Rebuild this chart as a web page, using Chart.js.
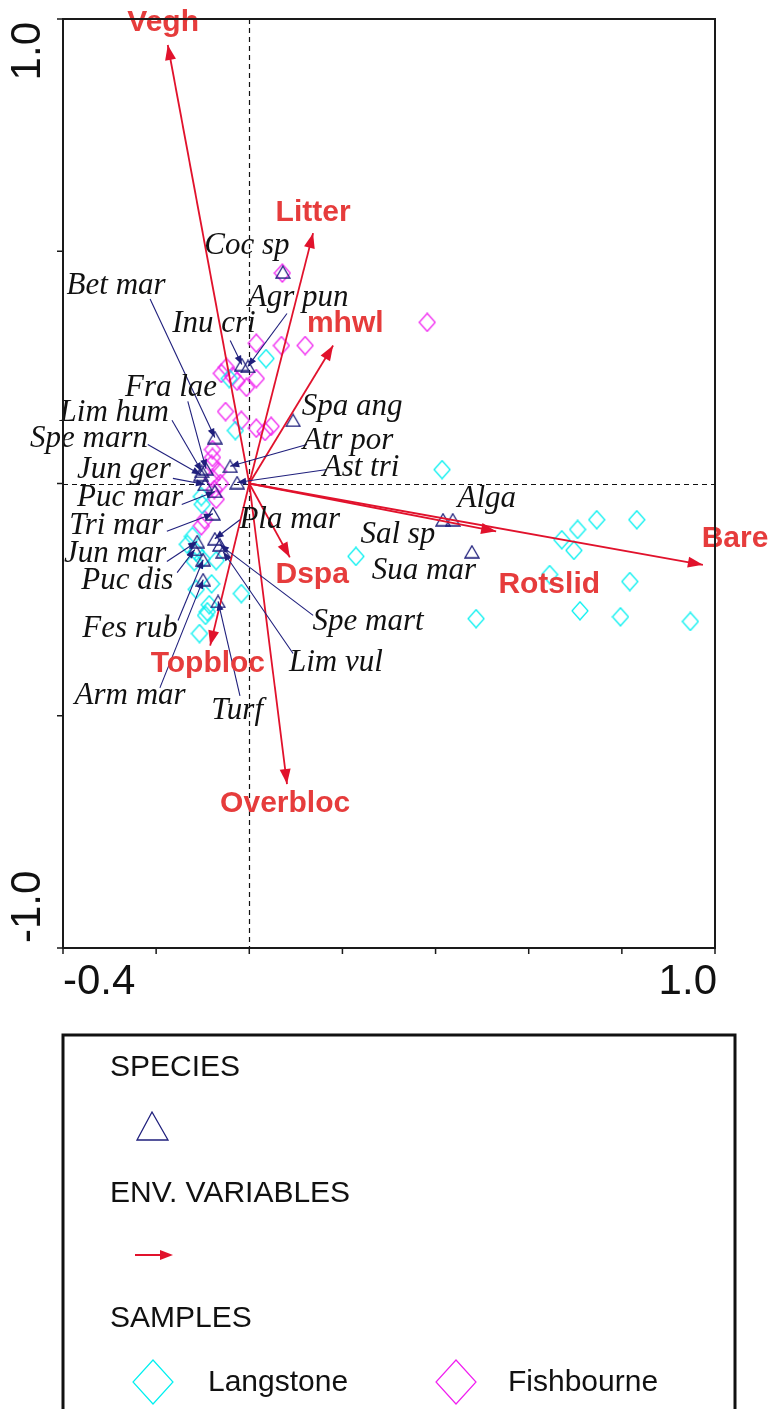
<!DOCTYPE html>
<html>
<head>
<meta charset="utf-8">
<script src="https://cdn.jsdelivr.net/npm/chart.js@4.4.1/dist/chart.umd.min.js"></script>
<style>
  html, body { margin: 0; padding: 0; background: #fff; }
  #wrap { position: relative; width: 771px; height: 1409px; }
</style>
</head>
<body>
<div id="wrap"><canvas id="triplot"></canvas></div>
<script>
// ---- environmental variables (arrow tips, ordination scores) ----
const envNames = ['Vegh', 'Litter', 'mhwl', 'Bare', 'Rotslid', 'Dspa', 'Topbloc', 'Overbloc'];
const envX = [-0.175, 0.137, 0.180, 0.974, 0.530, 0.087, -0.084, 0.081];
const envY = [0.944, 0.539, 0.297, -0.175, -0.103, -0.159, -0.349, -0.647];

// ---- species scores ----
const speciesNames = ['Coc sp', 'Bet mar', 'Inu cri', 'Agr pun', 'Fra lae', 'Lim hum', 'Spe marn', 'Jun ger',
  'Puc mar', 'Tri mar', 'Jun mar', 'Puc dis', 'Fes rub', 'Arm mar', 'Turf', 'Lim vul', 'Spe mart',
  'Pla mar', 'Atr por', 'Ast tri', 'Spa ang', 'Alga', 'Sal sp', 'Sua mar'];
const speciesX = [0.072, -0.074, -0.016, -0.003, -0.093, -0.102, -0.104, -0.095,
  -0.074, -0.078, -0.112, -0.117, -0.099, -0.099, -0.067, -0.056, -0.063,
  -0.074, -0.041, -0.026, 0.094, 0.437, 0.416, 0.478];
const speciesY = [0.455, 0.099, 0.256, 0.252, 0.032, 0.026, 0.019, -0.002,
  -0.017, -0.065, -0.125, -0.142, -0.164, -0.207, -0.254, -0.147, -0.132,
  -0.119, 0.037, 0.002, 0.136, -0.078, -0.078, -0.147];

// ---- sample scores ----
const langstoneX = [0.414, 0.746, 0.832, 0.705, 0.671, 0.697, 0.645, 0.817, 0.710, 0.797, 0.947, 0.487,
  0.229, -0.017, 0.036, -0.043, -0.030, -0.103, -0.101, -0.122, -0.133, -0.114, -0.101, -0.071,
  -0.114, -0.081, -0.086, -0.090, -0.094, -0.107, -0.118];
const langstoneY = [0.030, -0.078, -0.078, -0.099, -0.121, -0.144, -0.196, -0.211, -0.274, -0.287, -0.297, -0.291,
  -0.157, -0.237, 0.269, 0.226, 0.114, -0.028, -0.045, -0.114, -0.131, -0.147, -0.162, -0.166,
  -0.228, -0.216, -0.261, -0.276, -0.284, -0.323, -0.168];
const fishbourneX = [0.382, 0.071, 0.015, 0.069, 0.120, -0.049, -0.060, -0.036, 0.015, -0.006, -0.026,
  -0.051, -0.017, 0.015, 0.034, 0.047, -0.079, -0.079, -0.081, -0.066, -0.079, -0.062, -0.075,
  -0.071, -0.096, -0.103];
const fishbourneY = [0.347, 0.453, 0.302, 0.297, 0.297, 0.250, 0.237, 0.231, 0.226, 0.207, 0.220,
  0.155, 0.136, 0.119, 0.112, 0.123, 0.073, 0.056, 0.041, 0.026, 0.011, 0.000, -0.013,
  -0.034, -0.078, -0.091];

// ---- axis ticks ----
const xTicks = [-0.4, -0.2, 0, 0.2, 0.4, 0.6, 0.8, 1.0];
const xTickLabels = ['-0.4', '', '', '', '', '', '', '1.0'];
const yTicks = [-1.0, -0.5, 0, 0.5, 1.0];
const yTickLabels = ['-1.0', '', '', '', '1.0'];

// ---- label placement (axis units) ----
const envLabelX = [-0.185, 0.137, 0.206, 1.043, 0.644, 0.135, -0.089, 0.077];
const envLabelY = [0.991, 0.582, 0.343, -0.119, -0.218, -0.196, -0.388, -0.690];
const speciesLabelX = [-0.005, -0.286, -0.076, 0.105, -0.168, -0.290, -0.344, -0.269,
  -0.256, -0.286, -0.288, -0.262, -0.256, -0.256, -0.026, 0.186, 0.255,
  0.087, 0.212, 0.240, 0.221, 0.510, 0.319, 0.375];
const speciesLabelY = [0.511, 0.425, 0.343, 0.399, 0.207, 0.153, 0.097, 0.030,
  -0.030, -0.091, -0.151, -0.209, -0.312, -0.457, -0.489, -0.386, -0.297,
  -0.078, 0.091, 0.034, 0.166, -0.032, -0.110, -0.188];
// start of the leader line drawn from a label to its species (null = no leader)
const leaderX = [null, -0.213, -0.041, 0.081, -0.132, -0.166, -0.218, -0.164,
  -0.145, -0.177, -0.177, -0.155, -0.153, -0.192, -0.020, 0.094, 0.137,
  -0.020, 0.124, 0.167, null, null, null, null];
const leaderY = [null, 0.397, 0.308, 0.366, 0.177, 0.136, 0.084, 0.011,
  -0.045, -0.103, -0.168, -0.192, -0.295, -0.440, -0.457, -0.366, -0.284,
  -0.078, 0.084, 0.030, null, null, null, null];

const RED = '#e1122c';
const RED_TEXT = '#e63c3c';
const NAVY = '#1f1f7c';
const CYAN = '#00f0f0';
const MAGENTA = '#f020f0';

function diamondImage(color, w, h) {
  const c = document.createElement('canvas');
  c.width = w; c.height = h;
  const g = c.getContext('2d');
  g.strokeStyle = color; g.lineWidth = 1.2;
  g.beginPath();
  g.moveTo(w / 2, 1); g.lineTo(w - 1, h / 2); g.lineTo(w / 2, h - 1); g.lineTo(1, h / 2);
  g.closePath(); g.stroke();
  return c;
}
function triangleImage(color, w, h) {
  const c = document.createElement('canvas');
  c.width = w; c.height = h;
  const g = c.getContext('2d');
  g.strokeStyle = color; g.lineWidth = 1.3;
  g.beginPath();
  g.moveTo(w / 2, 1); g.lineTo(w - 1, h - 1); g.lineTo(1, h - 1);
  g.closePath(); g.stroke();
  return c;
}

const pts = (xs, ys) => xs.map((x, i) => ({ x, y: ys[i] }));

const envDatasets = envNames.map((name, i) => ({
  type: 'line',
  label: name,
  data: [{ x: 0, y: 0 }, { x: envX[i], y: envY[i] }],
  borderColor: RED,
  borderWidth: 1.8,
  pointRadius: 0,
  showLine: true,
  fill: false,
  order: 0
}));

function arrowHead(ctx, x0, y0, x1, y1, len, half) {
  const a = Math.atan2(y1 - y0, x1 - x0);
  ctx.beginPath();
  ctx.moveTo(x1, y1);
  ctx.lineTo(x1 - len * Math.cos(a) + half * Math.sin(a), y1 - len * Math.sin(a) - half * Math.cos(a));
  ctx.lineTo(x1 - len * Math.cos(a) - half * Math.sin(a), y1 - len * Math.sin(a) + half * Math.cos(a));
  ctx.closePath();
  ctx.fill();
}

const triplotDecor = {
  id: 'triplotDecor',
  beforeDatasetsDraw(chart) {
    const { ctx, chartArea: a, scales: { x, y } } = chart;
    ctx.save();
    ctx.strokeStyle = '#111';
    ctx.lineWidth = 1.2;
    ctx.setLineDash([5, 4]);
    const x0 = Math.round(x.getPixelForValue(0)) + 0.5;
    const y0 = Math.round(y.getPixelForValue(0)) + 0.5;
    ctx.beginPath();
    ctx.moveTo(x0, a.top); ctx.lineTo(x0, a.bottom);
    ctx.moveTo(a.left, y0); ctx.lineTo(a.right, y0);
    ctx.stroke();
    ctx.restore();
  },
  afterDatasetsDraw(chart) {
    const { ctx, scales: { x, y } } = chart;
    ctx.save();

    // species leader lines with small arrowheads
    ctx.strokeStyle = NAVY;
    ctx.fillStyle = NAVY;
    ctx.lineWidth = 1.1;
    speciesNames.forEach((n, i) => {
      if (leaderX[i] === null) return;
      const sx = x.getPixelForValue(leaderX[i]), sy = y.getPixelForValue(leaderY[i]);
      const px = x.getPixelForValue(speciesX[i]), py = y.getPixelForValue(speciesY[i]);
      ctx.beginPath(); ctx.moveTo(sx, sy); ctx.lineTo(px, py); ctx.stroke();
      arrowHead(ctx, sx, sy, px, py, 9, 3.5);
    });

    // env arrowheads
    ctx.fillStyle = RED;
    envNames.forEach((n, i) => {
      const ox = x.getPixelForValue(0), oy = y.getPixelForValue(0);
      const tx = x.getPixelForValue(envX[i]), ty = y.getPixelForValue(envY[i]);
      arrowHead(ctx, ox, oy, tx, ty, 15, 5.5);
    });

    // species labels
    ctx.fillStyle = '#111';
    ctx.font = 'italic 31px "Liberation Serif", "Times New Roman", serif';
    ctx.textAlign = 'center';
    ctx.textBaseline = 'middle';
    speciesNames.forEach((n, i) => {
      ctx.fillText(n, x.getPixelForValue(speciesLabelX[i]), y.getPixelForValue(speciesLabelY[i]));
    });

    // env labels
    ctx.fillStyle = RED_TEXT;
    ctx.font = 'bold 30px "Liberation Sans", Arial, sans-serif';
    envNames.forEach((n, i) => {
      ctx.fillText(n, x.getPixelForValue(envLabelX[i]), y.getPixelForValue(envLabelY[i]));
    });
    ctx.restore();
  },
  afterDraw(chart) {
    const { ctx, chartArea: a, scales: { x, y } } = chart;
    ctx.save();
    // frame
    ctx.strokeStyle = '#1a1a1a';
    ctx.lineWidth = 2;
    ctx.strokeRect(a.left, a.top, a.right - a.left, a.bottom - a.top);
    // ticks
    ctx.lineWidth = 1.5;
    ctx.beginPath();
    xTicks.forEach(v => {
      const px = x.getPixelForValue(v);
      ctx.moveTo(px, a.bottom); ctx.lineTo(px, a.bottom + 6);
    });
    yTicks.forEach(v => {
      const py = y.getPixelForValue(v);
      ctx.moveTo(a.left, py); ctx.lineTo(a.left - 6, py);
    });
    ctx.stroke();
    // tick labels
    ctx.fillStyle = '#111';
    ctx.font = '42px "Liberation Sans", Arial, sans-serif';
    ctx.textBaseline = 'middle';
    xTicks.forEach((v, i) => {
      if (!xTickLabels[i]) return;
      ctx.textAlign = i === 0 ? 'left' : (i === xTicks.length - 1 ? 'right' : 'center');
      ctx.fillText(xTickLabels[i], x.getPixelForValue(v) + (i === 0 ? 0 : 2), a.bottom + 34);
    });
    yTicks.forEach((v, i) => {
      if (!yTickLabels[i]) return;
      ctx.save();
      ctx.translate(28, y.getPixelForValue(v));
      ctx.rotate(-Math.PI / 2);
      if (i === 0) { ctx.textAlign = 'left'; ctx.fillText(yTickLabels[i], 5, 0); }
      else { ctx.textAlign = 'right'; ctx.fillText(yTickLabels[i], -3, 0); }
      ctx.restore();
    });

    // legend box
    const L = 63, T = 1035, R = 735;
    ctx.strokeStyle = '#111';
    ctx.lineWidth = 3;
    ctx.strokeRect(L, T, R - L, 420);
    ctx.fillStyle = '#111';
    ctx.font = '30px "Liberation Sans", Arial, sans-serif';
    ctx.textAlign = 'left';
    ctx.fillText('SPECIES', 110, 1068);
    ctx.fillText('ENV. VARIABLES', 110, 1194);
    ctx.fillText('SAMPLES', 110, 1319);
    ctx.fillText('Langstone', 208, 1383);
    ctx.fillText('Fishbourne', 508, 1383);
    // legend symbols
    ctx.strokeStyle = NAVY; ctx.lineWidth = 1.3;
    ctx.beginPath();
    ctx.moveTo(152, 1112); ctx.lineTo(168, 1140); ctx.lineTo(137, 1140); ctx.closePath(); ctx.stroke();
    ctx.strokeStyle = RED; ctx.fillStyle = RED; ctx.lineWidth = 2;
    ctx.beginPath(); ctx.moveTo(135, 1255); ctx.lineTo(166, 1255); ctx.stroke();
    arrowHead(ctx, 135, 1255, 173, 1255, 13, 5);
    ctx.lineWidth = 1.2;
    ctx.strokeStyle = CYAN;
    ctx.beginPath();
    ctx.moveTo(153, 1360); ctx.lineTo(173, 1382); ctx.lineTo(153, 1404); ctx.lineTo(133, 1382); ctx.closePath(); ctx.stroke();
    ctx.strokeStyle = MAGENTA;
    ctx.beginPath();
    ctx.moveTo(456, 1360); ctx.lineTo(476, 1382); ctx.lineTo(456, 1404); ctx.lineTo(436, 1382); ctx.closePath(); ctx.stroke();
    ctx.restore();
  }
};

new Chart(document.getElementById('triplot'), {
  type: 'scatter',
  data: {
    datasets: [
      ...envDatasets,
      {
        label: 'SPECIES',
        data: pts(speciesX, speciesY),
        pointStyle: triangleImage(NAVY, 16, 14),
        order: 1
      },
      {
        label: 'Langstone',
        data: pts(langstoneX, langstoneY),
        pointStyle: diamondImage(CYAN, 18, 20),
        order: 2
      },
      {
        label: 'Fishbourne',
        data: pts(fishbourneX, fishbourneY),
        pointStyle: diamondImage(MAGENTA, 18, 20),
        order: 2
      }
    ]
  },
  options: {
    responsive: true,
    maintainAspectRatio: false,
    animation: false,
    events: [],
    layout: { padding: { left: 63, right: 56, top: 19, bottom: 461 } },
    scales: {
      x: { type: 'linear', min: -0.4, max: 1.0, display: false },
      y: { type: 'linear', min: -1.0, max: 1.0, display: false }
    },
    plugins: { legend: { display: false }, tooltip: { enabled: false } }
  },
  plugins: [triplotDecor]
});
</script>
</body>
</html>
